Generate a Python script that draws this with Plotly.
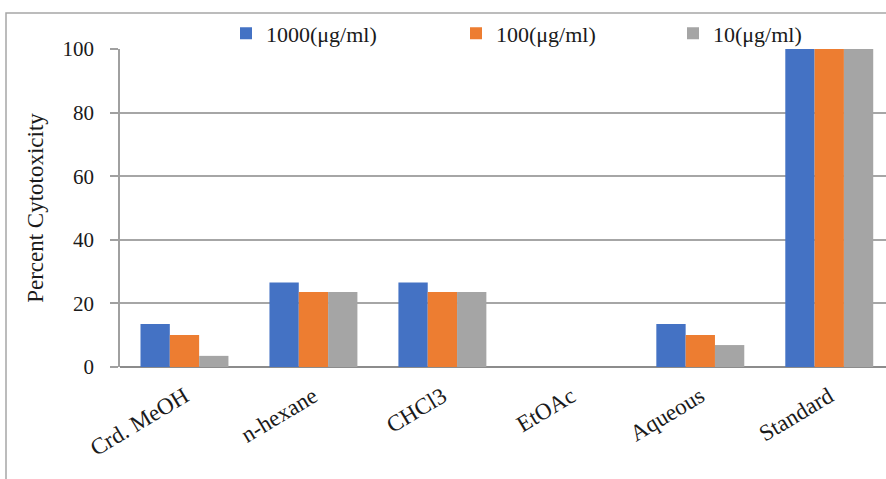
import plotly.graph_objects as go

categories = ["Crd. MeOH", "n-hexane", "CHCl3", "EtOAc", "Aqueous", "Standard"]
series_names = ["1000(μg/ml)", "100(μg/ml)", "10(μg/ml)"]
vals_1000 = [13.5, 26.6, 26.6, 0, 13.5, 100]
vals_100 = [10.1, 23.6, 23.6, 0, 10.1, 100]
vals_10 = [3.5, 23.6, 23.6, 0, 6.9, 100]
y_ticks = [0, 20, 40, 60, 80, 100]

colors = ["#4472C4", "#ED7D31", "#A5A5A5"]
legend_ids = ["legend", "legend2", "legend3"]
legend_px = [226, 456, 673]
FONT = "Liberation Serif"
TXT = "#1a1a1a"

W, H = 886, 479
L, R, T, B = 120, 0, 49, 112
pw, ph = W - L - R, H - T - B

def px_x(p):
    return (p - L) / pw

def px_y(p):
    return (H - B - p) / ph

fig = go.Figure()
for name, vals, col, lg in zip(series_names, [vals_1000, vals_100, vals_10], colors, legend_ids):
    fig.add_trace(go.Bar(x=categories, y=vals, name=name, legend=lg,
                         marker=dict(color=col, line=dict(width=0))))

legend_style = dict(orientation="h", xanchor="left", yanchor="middle",
                    y=px_y(33.5), font=dict(family=FONT, size=22, color=TXT),
                    bgcolor="rgba(0,0,0,0)", borderwidth=0)

fig.update_layout(
    width=W, height=H,
    margin=dict(l=L, r=R, t=T, b=B, pad=0, autoexpand=False),
    paper_bgcolor="white", plot_bgcolor="white",
    barmode="group", bargap=0.318, bargroupgap=0,
    font=dict(family=FONT, color=TXT, size=21),
    legend=dict(x=px_x(legend_px[0]), **legend_style),
    legend2=dict(x=px_x(legend_px[1]), **legend_style),
    legend3=dict(x=px_x(legend_px[2]), **legend_style),
    xaxis=dict(type="category", range=[-0.5, 5.44],
               tickangle=-31, ticks="outside", ticklen=0,
               ticklabelstandoff=6,
               tickfont=dict(family=FONT, size=23, color=TXT),
               showline=False, showgrid=False, fixedrange=True),
    yaxis=dict(range=[0, 100], tickvals=y_ticks,
               ticks="outside", ticklen=8, tickcolor="#A0A0A0", tickwidth=1.5,
               ticklabelstandoff=12,
               tickfont=dict(family=FONT, size=21, color=TXT),
               showline=True, linecolor="#A0A0A0", linewidth=1.5,
               showgrid=True, gridcolor="#A6A6A6", gridwidth=1.5,
               zeroline=True, zerolinecolor="#8C8C8C", zerolinewidth=2,
               title=dict(text="Percent Cytotoxicity", standoff=12,
                          font=dict(family=FONT, size=23, color=TXT)),
               fixedrange=True),
    showlegend=True,
)

fig.add_shape(type="rect", xref="paper", yref="paper",
              x0=px_x(6), x1=px_x(900), y0=px_y(520), y1=px_y(13),
              line=dict(color="#A6A6A6", width=1.5), fillcolor="rgba(0,0,0,0)",
              layer="below")

fig.write_html("out.html", config={"displayModeBar": False},
               post_script="document.body.style.margin='0';document.body.style.overflow='hidden';")
